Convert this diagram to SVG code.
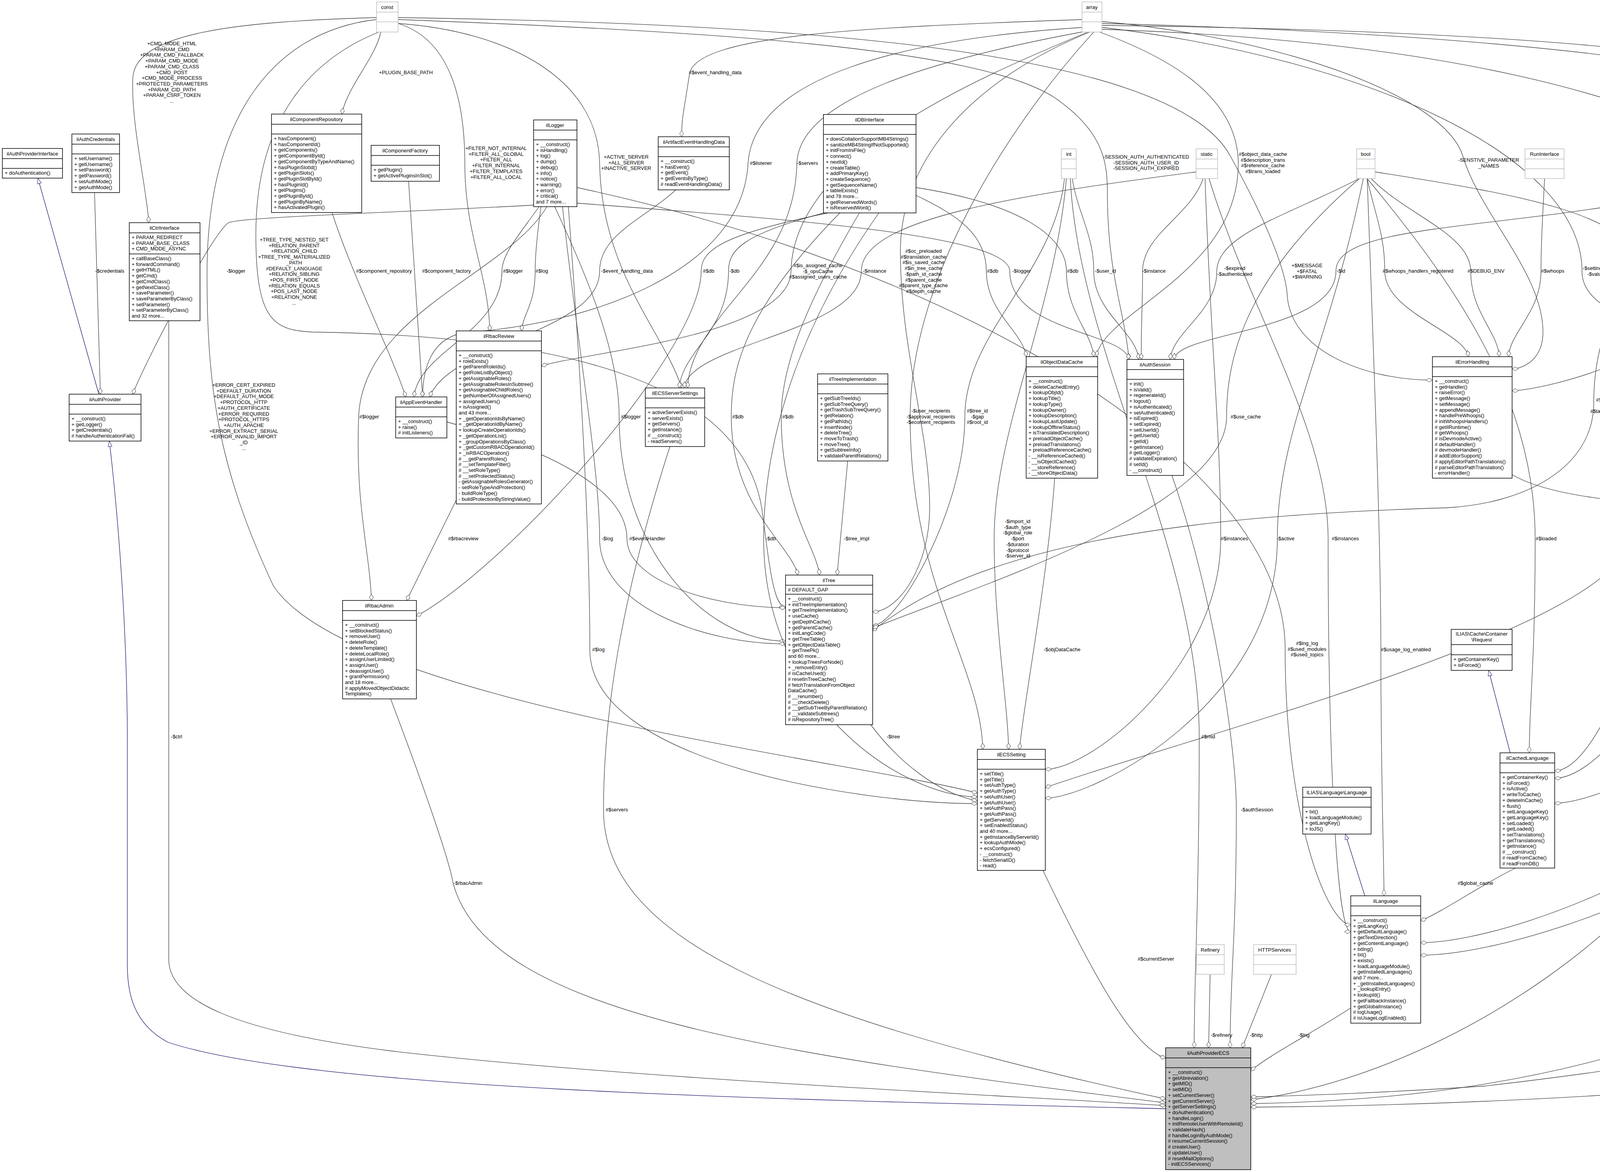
<svg xmlns="http://www.w3.org/2000/svg" width="5173" height="3000" viewBox="0 0 5173 3000">
<style>
text{font-family:"Liberation Sans",Arial,sans-serif;font-size:13px;fill:#000}
.t{text-anchor:middle}
.l{text-anchor:middle}
.b{fill:#fff;stroke:#000;stroke-width:1.5}
.s{stroke:#000;stroke-width:1.5}
.g{fill:#fff;stroke:#bfbfbf;stroke-width:1.5}
.gs{stroke:#bfbfbf;stroke-width:1.5}
.e{fill:none;stroke:#404040;stroke-width:1.3;marker-end:url(#d)}
.i{fill:none;stroke:#191970;stroke-width:1.3;marker-end:url(#gen)}
</style>
<defs>
<marker id="d" markerWidth="18" markerHeight="12" refX="17" refY="6" orient="auto" markerUnits="userSpaceOnUse"><path d="M1,6 L9,1 L17,6 L9,11 Z" fill="#fff" stroke="#404040"/></marker>
<marker id="gen" markerWidth="16" markerHeight="12" refX="15" refY="6" orient="auto" markerUnits="userSpaceOnUse"><path d="M1,1 L15,6 L1,11 Z" fill="#fff" stroke="#191970"/></marker>
</defs>
<rect width="5173" height="3000" fill="#fff"/>
<g id="connectors">
<path class="e" d="M964,45 C600,55 345,85 340,200 S375,480 381,570"/>
<path class="e" d="M975,82 C960,150 890,220 875,292"/>
<path class="e" d="M970,82 C800,150 655,300 655,600 C655,820 700,845 800,850 C1500,860 1900,1000 1950,1300 C1970,1450 1980,1553 2011,1553"/>
<path class="e" d="M964,50 C700,80 530,300 530,700 C530,1000 560,1200 700,1500 C900,1800 2200,1950 2502,2030"/>
<path class="e" d="M1019,60 C1150,100 1190,250 1190,420 C1190,600 1250,700 1254,847"/>
<path class="e" d="M1019,50 C1800,80 2500,120 2700,250 C2830,340 2835,420 2835,500 C2835,700 2880,800 2890,920"/>
<path class="e" d="M1019,45 C2000,60 3000,120 3150,400 C3260,600 3290,700 3295,750 C3300,900 3500,973 3667,973"/>
<path class="e" d="M1019,60 C1300,80 1530,200 1535,417 C1540,700 1700,850 1745,993"/>
<path class="e" d="M2821,55 C3300,100 3700,250 3745,400 C3790,550 3950,700 3950,850 C3950,920 3900,944 3871,944"/>
<path class="e" d="M2770,50 C2200,70 1780,90 1765,190 S1745,300 1745,350"/>
<path class="e" d="M2775,70 C2300,100 1930,200 1915,418 C1900,700 1500,830 1200,850 C1100,860 1082,950 1082,1016"/>
<path class="e" d="M2780,80 C2400,150 2045,250 2040,418 C2035,700 1770,800 1760,993"/>
<path class="e" d="M2785,82 C2500,200 2030,400 2025,695 C2020,860 1500,900 1386,937"/>
<path class="e" d="M2790,82 C2500,200 2305,400 2305,643 C2305,900 2380,1100 2380,1300 C2380,1450 2300,1566 2234,1566"/>
<path class="e" d="M2815,82 C3000,150 3170,250 3170,420 C3170,700 2820,800 2807,913"/>
<path class="e" d="M2800,82 C2600,300 2330,700 2330,1067 C2330,1500 2510,1700 2516,1918"/>
<path class="e" d="M2725,457 C2700,700 2470,850 2470,1067 C2470,1300 2300,1600 2234,1601"/>
<path class="e" d="M2730,457 C2700,800 2545,1100 2545,1379 C2545,1600 2580,1800 2582,1918"/>
<path class="e" d="M2740,457 C2760,900 3070,1400 3070,1886 C3070,2300 3057,2500 3057,2682"/>
<path class="e" d="M2745,457 C2760,550 2800,600 2800,694 C2800,800 2910,850 2915,920"/>
<path class="e" d="M3080,457 C3050,550 2925,600 2925,694 C2925,800 2920,850 2922,920"/>
<path class="e" d="M3480,457 C3300,550 3115,600 3115,695 C3115,800 3000,850 2996,920"/>
<path class="e" d="M4521,440 C4000,600 3420,550 3420,694 C3420,850 3010,850 3006,920"/>
<path class="e" d="M1477,520 C2000,560 2585,600 2585,694 C2585,850 2880,850 2890,920"/>
<path class="e" d="M2345,500 C2450,550 2525,600 2525,694 C2525,800 2620,850 2627,913"/>
<path class="e" d="M2345,480 C2600,520 2730,600 2730,694 C2730,800 2795,850 2800,913"/>
<path class="e" d="M3500,457 C3520,550 3545,600 3545,694 C3545,800 3750,850 3759,913"/>
<path class="e" d="M3510,457 C3600,550 3765,600 3765,694 C3765,800 3835,850 3838,913"/>
<path class="e" d="M3954,457 C3950,550 3945,600 3945,694 C3945,800 3865,850 3862,913"/>
<path class="e" d="M2821,70 C3500,150 4050,400 4050,695 C4050,850 4440,850 4457,936"/>
<path class="e" d="M3520,440 C3900,500 4195,550 4195,694 C4195,850 4460,850 4465,936"/>
<path class="e" d="M4530,457 C4420,550 4370,600 4370,694 C4370,900 3950,1000 3871,1000"/>
<path class="e" d="M4549,457 C4552,600 4555,650 4555,694 C4555,800 4540,850 4537,936"/>
<path class="e" d="M4577,440 C4800,550 4852,600 4852,695 C4852,850 4945,880 4951,957"/>
<path class="e" d="M2821,65 C4000,80 4990,150 5010,418 C5020,600 5005,800 5005,957"/>
<path class="e" d="M2821,60 C4000,90 4900,200 4915,418 C4925,700 4600,800 4553,936"/>
<path class="i" d="M4565,936 C4620,850 4700,840 4820,830 C4870,820 4885,700 4880,640 C4875,580 4850,560 4840,515"/>
<path class="e" d="M3871,1215 C4000,1290 4300,1290 4430,1305 C4460,1320 4465,1350 4470,1400 C4475,1480 4480,1500 4480,1544"/>
<path class="e" d="M4521,1202 C4520,1300 4515,1400 4511,1544"/>
<path class="e" d="M4570,457 C4630,700 4650,900 4650,1068 C4650,1300 4560,1450 4557,1544"/>
<path class="e" d="M3500,457 C3700,700 3930,1000 3930,1379 C3930,1700 3915,1800 3915,1927"/>
<path class="e" d="M4521,420 C4350,600 4280,850 4280,1067 C4280,1500 4100,1973 3980,1973"/>
<path class="e" d="M4530,457 C4400,800 4330,1100 4330,1379 C4330,1700 4100,1992 3980,1992"/>
<path class="e" d="M4440,1782 C4400,1850 4360,1880 4340,1900 C4200,2000 4050,2056 3980,2056"/>
<path class="e" d="M4521,430 C4200,600 4080,800 4080,1030 C4080,1200 3900,1290 3700,1300 C3000,1320 2500,1400 2234,1615"/>
<path class="e" d="M4540,457 C4300,800 4165,1100 4165,1380 C4165,1600 3000,1900 2676,2016"/>
<path class="e" d="M3085,457 C3100,900 3125,1100 3125,1379 C3125,1700 2800,1969 2676,1969"/>
<path class="e" d="M3490,457 C3400,900 3270,1100 3270,1379 C3270,1800 2800,2043 2676,2043"/>
<path class="e" d="M3095,457 C3200,800 3400,1100 3400,1379 C3400,1900 3420,2385 3458,2385"/>
<path class="e" d="M1477,480 C2500,700 3290,1200 3290,1662 C3290,2100 3400,2367 3458,2367"/>
<path class="e" d="M3500,457 C3520,1000 3535,1400 3535,1663 C3535,2000 3543,2200 3543,2293"/>
<path class="i" d="M3494,2293 L3444,2135"/>
<path class="i" d="M3866,1927 L3811,1716"/>
<path class="e" d="M3880,2222 C3800,2260 3700,2330 3637,2357"/>
<path class="e" d="M4577,450 C4650,900 4700,1300 4700,1650 C4700,2100 3900,2413 3637,2413"/>
<path class="e" d="M2821,75 C4500,130 5060,600 5075,1380 C5080,2000 4000,2445 3637,2445"/>
<path class="e" d="M3458,2580 C3350,2650 3250,2700 3202,2741"/>
<path class="e" d="M3098,2494 L3094,2682"/>
<path class="e" d="M3255,2494 L3180,2682"/>
<path class="e" d="M3000,1217 C3100,1500 3165,1900 3165,2073 C3165,2400 3149,2500 3149,2682"/>
<path class="e" d="M2670,2228 C2800,2500 2900,2680 2984,2709"/>
<path class="e" d="M1715,1143 C1600,1500 1545,1800 1545,2073 C1545,2400 2000,2600 2984,2813"/>
<path class="e" d="M1000,1789 C1080,2000 1150,2200 1160,2261 C1250,2600 2000,2700 2984,2823"/>
<path class="e" d="M432,821 L432,2456 C432,2560 600,2640 1000,2690 C1600,2760 2500,2800 2984,2830"/>
<path class="i" d="M2984,2838 C2000,2815 800,2790 430,2668 C340,2620 326,2540 326,2470 L326,1900 C326,1600 300,1300 280,1129"/>
<path class="i" d="M253,1009 L97,456"/>
<path class="e" d="M242,493 L257,1009"/>
<path class="e" d="M1366,525 C1000,545 620,555 585,570 C540,600 360,950 340,1009"/>
<path class="e" d="M850,544 C900,700 1000,900 1039,1016"/>
<path class="e" d="M1046,464 C1060,700 1075,900 1082,1016"/>
<path class="e" d="M1380,529 C1330,600 1285,650 1285,694 C1285,850 1070,900 1060,1016"/>
<path class="e" d="M1385,529 C1375,600 1370,650 1370,694 C1370,780 1340,800 1335,847"/>
<path class="e" d="M1730,486 C1650,560 1535,600 1535,694 C1535,850 1150,880 1100,1016"/>
<path class="e" d="M1400,529 C1300,700 930,800 918,1067 C910,1300 945,1400 951,1537"/>
<path class="e" d="M1168,1280 L1041,1537"/>
<path class="e" d="M2120,545 C1850,600 1795,640 1795,694 C1795,900 1300,1450 1066,1577"/>
<path class="e" d="M2110,545 C1900,600 1865,640 1865,694 C1865,850 1745,900 1739,993"/>
<path class="e" d="M3062,440 C2600,500 2205,560 2205,694 C2205,850 1760,880 1752,993"/>
<path class="e" d="M1420,529 C1500,700 1585,900 1585,1067 C1585,1400 1800,1641 2011,1641"/>
<path class="e" d="M2150,545 C1900,800 1872,950 1872,1067 C1872,1300 2030,1400 2042,1472"/>
<path class="e" d="M2200,545 C2050,800 2000,950 2000,1067 C2000,1300 2090,1400 2098,1472"/>
<path class="e" d="M2170,1180 L2143,1472"/>
<path class="e" d="M1440,529 C1480,900 1535,1200 1535,1379 C1535,1550 1800,1648 2011,1648"/>
<path class="e" d="M1144,1080 C1400,1150 1605,1250 1605,1379 C1605,1480 1800,1553 2011,1556"/>
<path class="e" d="M2250,545 C2000,900 1955,1200 1955,1379 C1955,1800 2300,2037 2502,2040"/>
<path class="e" d="M2229,1855 C2300,1950 2400,2030 2502,2050"/>
<path class="e" d="M1455,529 C1490,1000 1510,1400 1510,1663 C1510,1950 2200,2057 2502,2057"/>
<path class="e" d="M2700,1224 C2680,1500 2620,1800 2610,1918"/>
<path class="e" d="M3480,457 C3200,700 3140,900 3140,1067 C3140,1300 2500,1500 2234,1608"/>
<path class="e" d="M4470,1782 C4470,1950 4400,2100 4200,2300 C3900,2600 3500,2780 3202,2815"/>
<path class="e" d="M4560,1202 C4600,1600 4700,1950 4770,2080 C4820,2250 4700,2500 4300,2650 C3900,2790 3500,2820 3202,2825"/>
<path class="e" d="M5005,1180 L5005,2500 C5005,2700 4800,2750 4300,2790 C3900,2820 3500,2832 3202,2834"/>
<path class="e" d="M4577,440 C4800,600 4900,900 4902,1200 L4902,2455 C4902,2600 4500,2700 3800,2780 C3500,2800 3300,2805 3202,2808"/>
<g id="labels">
<text class="l" x="440"><tspan x="440" y="116">+CMD_MODE_HTML</tspan><tspan x="440" dy="14.7">+PARAM_CMD</tspan><tspan x="440" dy="14.7">+PARAM_CMD_FALLBACK</tspan><tspan x="440" dy="14.7">+PARAM_CMD_MODE</tspan><tspan x="440" dy="14.7">+PARAM_CMD_CLASS</tspan><tspan x="440" dy="14.7">+CMD_POST</tspan><tspan x="440" dy="14.7">+CMD_MODE_PROCESS</tspan><tspan x="440" dy="14.7">+PROTECTED_PARAMETERS</tspan><tspan x="440" dy="14.7">+PARAM_CID_PATH</tspan><tspan x="440" dy="14.7">+PARAM_CSRF_TOKEN</tspan><tspan x="440" dy="14.7">...</tspan></text>
<text class="l" x="1039" y="190">+PLUGIN_BASE_PATH</text>
<text class="l" x="753"><tspan x="753" y="618">+TREE_TYPE_NESTED_SET</tspan><tspan x="753" dy="14.7">+RELATION_PARENT</tspan><tspan x="753" dy="14.7">+RELATION_CHILD</tspan><tspan x="753" dy="14.7">+TREE_TYPE_MATERIALIZED</tspan><tspan x="753" dy="14.7">_PATH</tspan><tspan x="753" dy="14.7">#DEFAULT_LANGUAGE</tspan><tspan x="753" dy="14.7">+RELATION_SIBLING</tspan><tspan x="753" dy="14.7">+POS_FIRST_NODE</tspan><tspan x="753" dy="14.7">+RELATION_EQUALS</tspan><tspan x="753" dy="14.7">+POS_LAST_NODE</tspan><tspan x="753" dy="14.7">+RELATION_NONE</tspan><tspan x="753" dy="14.7">...</tspan></text>
<text class="l" x="1270"><tspan x="1270" y="384">+FILTER_NOT_INTERNAL</tspan><tspan x="1270" dy="14.7">+FILTER_ALL_GLOBAL</tspan><tspan x="1270" dy="14.7">+FILTER_ALL</tspan><tspan x="1270" dy="14.7">+FILTER_INTERNAL</tspan><tspan x="1270" dy="14.7">+FILTER_TEMPLATES</tspan><tspan x="1270" dy="14.7">+FILTER_ALL_LOCAL</tspan></text>
<text class="l" x="624"><tspan x="624" y="990">+ERROR_CERT_EXPIRED</tspan><tspan x="624" dy="14.7">+DEFAULT_DURATION</tspan><tspan x="624" dy="14.7">+DEFAULT_AUTH_MODE</tspan><tspan x="624" dy="14.7">+PROTOCOL_HTTP</tspan><tspan x="624" dy="14.7">+AUTH_CERTIFICATE</tspan><tspan x="624" dy="14.7">+ERROR_REQUIRED</tspan><tspan x="624" dy="14.7">+PROTOCOL_HTTPS</tspan><tspan x="624" dy="14.7">+AUTH_APACHE</tspan><tspan x="624" dy="14.7">+ERROR_EXTRACT_SERIAL</tspan><tspan x="624" dy="14.7">+ERROR_INVALID_IMPORT</tspan><tspan x="624" dy="14.7">_ID</tspan><tspan x="624" dy="14.7">...</tspan></text>
<text class="l" x="281" y="698">-$credentials</text>
<text class="l" x="604" y="698">-$logger</text>
<text class="l" x="983" y="698">#$component_repository</text>
<text class="l" x="1143" y="698">#$component_factory</text>
<text class="l" x="1313" y="698">#$logger</text>
<text class="l" x="1387" y="698">#$log</text>
<text class="l" x="1605" y="698">-$event_handling_data</text>
<text class="l" x="1814" y="698">#$db</text>
<text class="l" x="1880" y="698">-$db</text>
<text class="l" x="2094"><tspan x="2094" y="684">#$is_assigned_cache</tspan><tspan x="2094" dy="14.7">-$_opsCache</tspan><tspan x="2094" dy="14.7">#$assigned_users_cache</tspan></text>
<text class="l" x="2239" y="698">-$instance</text>
<text class="l" x="2364"><tspan x="2364" y="647">#$oc_preloaded</tspan><tspan x="2364" dy="14.7">#$translation_cache</tspan><tspan x="2364" dy="14.7">#$is_saved_cache</tspan><tspan x="2364" dy="14.7">#$in_tree_cache</tspan><tspan x="2364" dy="14.7">-$path_id_cache</tspan><tspan x="2364" dy="14.7">#$parent_cache</tspan><tspan x="2364" dy="14.7">#$parent_type_cache</tspan><tspan x="2364" dy="14.7">#$depth_cache</tspan></text>
<text class="l" x="2541" y="698">#$db</text>
<text class="l" x="1831" y="190">#$event_handling_data</text>
<text class="l" x="1603"><tspan x="1603" y="406">+ACTIVE_SERVER</tspan><tspan x="1603" dy="14.7">+ALL_SERVER</tspan><tspan x="1603" dy="14.7">+INACTIVE_SERVER</tspan></text>
<text class="l" x="1948" y="422">#$listener</text>
<text class="l" x="2067" y="422">-$servers</text>
<text class="l" x="2934"><tspan x="2934" y="406">-SESSION_AUTH_AUTHENTICATED</tspan><tspan x="2934" dy="14.7">-SESSION_AUTH_USER_ID</tspan><tspan x="2934" dy="14.7">-SESSION_AUTH_EXPIRED</tspan></text>
<text class="l" x="3233"><tspan x="3233" y="399">#$object_data_cache</tspan><tspan x="3233" dy="14.7">#$description_trans</tspan><tspan x="3233" dy="14.7">#$reference_cache</tspan><tspan x="3233" dy="14.7">#$trans_loaded</tspan></text>
<text class="l" x="3811"><tspan x="3811" y="414">-SENSTIVE_PARAMETER</tspan><tspan x="3811" dy="14.7">_NAMES</tspan></text>
<text class="l" x="2615" y="698">-$logger</text>
<text class="l" x="2746" y="698">#$db</text>
<text class="l" x="2830" y="698">-$user_id</text>
<text class="l" x="2954" y="698">-$instance</text>
<text class="l" x="3161"><tspan x="3161" y="691">-$expired</tspan><tspan x="3161" dy="14.7">-$authenticated</tspan></text>
<text class="l" x="3346"><tspan x="3346" y="684">+$MESSAGE</tspan><tspan x="3346" dy="14.7">+$FATAL</tspan><tspan x="3346" dy="14.7">+$WARNING</tspan></text>
<text class="l" x="3433" y="698">-$id</text>
<text class="l" x="3630" y="698">#$whoops_handlers_registered</text>
<text class="l" x="3804" y="698">#$DEBUG_ENV</text>
<text class="l" x="3975" y="698">#$whoops</text>
<text class="l" x="4101"><tspan x="4101" y="691">-$settings_cache</tspan><tspan x="4101" dy="14.7">-$value_type</tspan></text>
<text class="l" x="4247" y="698">#$cache_disabled</text>
<text class="l" x="4405" y="698">#$message</text>
<text class="l" x="4582" y="698">+$module</text>
<text class="l" x="4912"><tspan x="4912" y="684">+$CURRENT_GROUP</tspan><tspan x="4912" dy="14.7">+$ERROR</tspan><tspan x="4912" dy="14.7">+$INI_FILE_NAME</tspan></text>
<text class="l" x="4945" y="422">+$setting</text>
<text class="l" x="5043" y="422">+$GROUPS</text>
<text class="l" x="945" y="1071">#$logger</text>
<text class="l" x="1186" y="1383">#$rbacreview</text>
<text class="l" x="452" y="1890">-$ctrl</text>
<text class="l" x="1615" y="1071">#$logger</text>
<text class="l" x="1889" y="1071">#$db</text>
<text class="l" x="2017" y="1071">#$db</text>
<text class="l" x="2383"><tspan x="2383" y="1056">-$user_recipients</tspan><tspan x="2383" dy="14.7">-$approval_recipients</tspan><tspan x="2383" dy="14.7">-$econtent_recipients</tspan></text>
<text class="l" x="2502"><tspan x="2502" y="1056">#$tree_id</tspan><tspan x="2502" dy="14.7">-$gap</tspan><tspan x="2502" dy="14.7">#$root_id</tspan></text>
<text class="l" x="1555" y="1383">-$log</text>
<text class="l" x="1657" y="1383">#$eventHandler</text>
<text class="l" x="1973" y="1383">-$db</text>
<text class="l" x="2193" y="1383">-$tree_impl</text>
<text class="l" x="2605"><tspan x="2605" y="1339">-$import_id</tspan><tspan x="2605" dy="14.7">-$auth_type</tspan><tspan x="2605" dy="14.7">-$global_role</tspan><tspan x="2605" dy="14.7">-$port</tspan><tspan x="2605" dy="14.7">-$duration</tspan><tspan x="2605" dy="14.7">-$protocol</tspan><tspan x="2605" dy="14.7">-$server_id</tspan></text>
<text class="l" x="1532" y="1667">#$log</text>
<text class="l" x="2287" y="1890">-$tree</text>
<text class="l" x="3189" y="1071">#$use_cache</text>
<text class="l" x="3160" y="1383">#$instances</text>
<text class="l" x="3291" y="1383">-$active</text>
<text class="l" x="3444" y="1383">#$instances</text>
<text class="l" x="2719" y="1667">-$objDataCache</text>
<text class="l" x="3346"><tspan x="3346" y="1651">#$lng_log</tspan><tspan x="3346" dy="14.7">#$used_modules</tspan><tspan x="3346" dy="14.7">#$used_topics</tspan></text>
<text class="l" x="3599" y="1667">#$usage_log_enabled</text>
<text class="l" x="3093" y="1890">#$mid</text>
<text class="l" x="4136"><tspan x="4136" y="1028">#$table_obj_data</tspan><tspan x="4136" dy="14.7">#$tree_pk</tspan><tspan x="4136" dy="14.7">#$table_obj_reference</tspan><tspan x="4136" dy="14.7">-$lang_code</tspan><tspan x="4136" dy="14.7">#$obj_pk</tspan><tspan x="4136" dy="14.7">#$ref_pk</tspan><tspan x="4136" dy="14.7">#$table_tree</tspan></text>
<text class="l" x="4327" y="1071">#$translations</text>
<text class="l" x="4692"><tspan x="4692" y="1065">+$INI_FILE</tspan><tspan x="4692" dy="14.7">+$client_id</tspan></text>
<text class="l" x="3958" y="1383">#$loaded</text>
<text class="l" x="4375" y="1383">#$language_key</text>
<text class="l" x="4483" y="1383">#$error</text>
<text class="l" x="4548" y="1383">#$setting</text>
<text class="l" x="4232"><tspan x="4232" y="1325">-$auth_user</tspan><tspan x="4232" dy="14.7">-$key_password</tspan><tspan x="4232" dy="14.7">-$server</tspan><tspan x="4232" dy="14.7">-$cert_serial_number</tspan><tspan x="4232" dy="14.7">-$ca_cert_path</tspan><tspan x="4232" dy="14.7">-$auth_pass</tspan><tspan x="4232" dy="14.7">-$key_path</tspan><tspan x="4232" dy="14.7">-$client_cert_path</tspan><tspan x="4232" dy="14.7">-$title</tspan></text>
<text class="l" x="5120"><tspan x="5120" y="1361">#$cached_modules</tspan><tspan x="5120" dy="14.7">#$map_modules_txt</tspan><tspan x="5120" dy="14.7">+$loaded_modules</tspan><tspan x="5120" dy="14.7">+$text</tspan></text>
<text class="l" x="4759"><tspan x="4759" y="1614">+$lang_name</tspan><tspan x="4759" dy="14.7">+$lang_user</tspan><tspan x="4759" dy="14.7">+$lang_path</tspan><tspan x="4759" dy="14.7">#$cust_lang_path</tspan><tspan x="4759" dy="14.7">+$separator</tspan><tspan x="4759" dy="14.7">+$comment_separator</tspan><tspan x="4759" dy="14.7">+$lang_key</tspan><tspan x="4759" dy="14.7">+$lang_default</tspan></text>
<text class="l" x="4412" y="1890">#$language_cache</text>
<text class="l" x="4945" y="1890">#$abreviation</text>
<text class="l" x="1198" y="2265">-$rbacAdmin</text>
<text class="l" x="1579" y="2077">#$servers</text>
<text class="l" x="3218" y="2077">-$authSession</text>
<text class="l" x="3777" y="2265">#$global_cache</text>
<text class="l" x="2959" y="2459">#$currentServer</text>
<text class="l" x="3127" y="2654">-$refinery</text>
<text class="l" x="3216" y="2654">-$http</text>
<text class="l" x="3338" y="2654">-$lng</text>
<text class="l" x="4480" y="2077">+$ilias</text>
<text class="l" x="4812" y="2077">-$setting</text>
<text class="l" x="5048" y="2077">-$clientIniFile</text>
</g>
</g>
<g id="const"><rect class="g" x="964" y="5" width="55" height="77"/><path class="gs" d="M964,31H1019M964,56H1019"/><text class="t" x="991" y="23">const</text></g>
<g id="array"><rect class="g" x="2770" y="5" width="51" height="77"/><path class="gs" d="M2770,31H2821M2770,56H2821"/><text class="t" x="2795" y="23">array</text></g>
<g id="int"><rect class="g" x="2717" y="381" width="38" height="76"/><path class="gs" d="M2717,407H2755M2717,432H2755"/><text class="t" x="2736" y="399">int</text></g>
<g id="static"><rect class="g" x="3062" y="381" width="55" height="76"/><path class="gs" d="M3062,407H3117M3062,432H3117"/><text class="t" x="3089" y="399">static</text></g>
<g id="bool"><rect class="g" x="3473" y="381" width="47" height="76"/><path class="gs" d="M3473,407H3520M3473,432H3520"/><text class="t" x="3496" y="399">bool</text></g>
<g id="string"><rect class="g" x="4521" y="381" width="56" height="76"/><path class="gs" d="M4521,407H4577M4521,432H4577"/><text class="t" x="4549" y="399">string</text></g>
<g id="RunInterface"><rect class="g" x="3904" y="381" width="100" height="76"/><path class="gs" d="M3904,407H4004M3904,432H4004"/><text class="t" x="3954" y="399">RunInterface</text></g>
<g id="Refinery"><rect class="g" x="3063" y="2418" width="71" height="76"/><path class="gs" d="M3063,2444H3134M3063,2469H3134"/><text class="t" x="3098" y="2436">Refinery</text></g>
<g id="HTTPServices"><rect class="g" x="3209" y="2418" width="109" height="76"/><path class="gs" d="M3209,2444H3318M3209,2469H3318"/><text class="t" x="3263" y="2436">HTTPServices</text></g>
<g id="ilAuthProviderInterface"><rect class="b" x="6" y="380" width="154" height="76"/><path class="s" d="M6,406H160M6,431H160"/><text class="t" x="83" y="398">ilAuthProviderInterface</text><text x="12" y="447">+ doAuthentication()</text></g>
<g id="ilAuthCredentials"><rect class="b" x="184" y="343" width="122" height="150"/><path class="s" d="M184,369H306M184,394H306"/><text class="t" x="245" y="361">ilAuthCredentials</text><text x="190"><tspan x="190" y="410">+ setUsername()</tspan><tspan x="190" dy="14.7">+ getUsername()</tspan><tspan x="190" dy="14.7">+ setPassword()</tspan><tspan x="190" dy="14.7">+ getPassword()</tspan><tspan x="190" dy="14.7">+ setAuthMode()</tspan><tspan x="190" dy="14.7">+ getAuthMode()</tspan></text></g>
<g id="ilComponentRepository"><rect class="b" x="695" y="292" width="231" height="252"/><path class="s" d="M695,318H926M695,343H926"/><text class="t" x="810" y="310">ilComponentRepository</text><text x="701"><tspan x="701" y="359">+ hasComponent()</tspan><tspan x="701" dy="14.7">+ hasComponentId()</tspan><tspan x="701" dy="14.7">+ getComponents()</tspan><tspan x="701" dy="14.7">+ getComponentById()</tspan><tspan x="701" dy="14.7">+ getComponentByTypeAndName()</tspan><tspan x="701" dy="14.7">+ hasPluginSlotId()</tspan><tspan x="701" dy="14.7">+ getPluginSlots()</tspan><tspan x="701" dy="14.7">+ getPluginSlotById()</tspan><tspan x="701" dy="14.7">+ hasPluginId()</tspan><tspan x="701" dy="14.7">+ getPlugins()</tspan><tspan x="701" dy="14.7">+ getPluginById()</tspan><tspan x="701" dy="14.7">+ getPluginByName()</tspan><tspan x="701" dy="14.7">+ hasActivatedPlugin()</tspan></text></g>
<g id="ilComponentFactory"><rect class="b" x="950" y="372" width="175" height="92"/><path class="s" d="M950,398H1125M950,423H1125"/><text class="t" x="1037" y="390">ilComponentFactory</text><text x="956"><tspan x="956" y="439">+ getPlugin()</tspan><tspan x="956" dy="14.7">+ getActivePluginsInSlot()</tspan></text></g>
<g id="ilCtrlInterface"><rect class="b" x="331" y="570" width="181" height="251"/><path class="s" d="M331,596H512M331,650H512"/><text class="t" x="421" y="588">ilCtrlInterface</text><text x="337"><tspan x="337" y="612">+ PARAM_REDIRECT</tspan><tspan x="337" dy="14.7">+ PARAM_BASE_CLASS</tspan><tspan x="337" dy="14.7">+ CMD_MODE_ASYNC</tspan></text><text x="337"><tspan x="337" y="666">+ callBaseClass()</tspan><tspan x="337" dy="14.7">+ forwardCommand()</tspan><tspan x="337" dy="14.7">+ getHTML()</tspan><tspan x="337" dy="14.7">+ getCmd()</tspan><tspan x="337" dy="14.7">+ getCmdClass()</tspan><tspan x="337" dy="14.7">+ getNextClass()</tspan><tspan x="337" dy="14.7">+ saveParameter()</tspan><tspan x="337" dy="14.7">+ saveParameterByClass()</tspan><tspan x="337" dy="14.7">+ setParameter()</tspan><tspan x="337" dy="14.7">+ setParameterByClass()</tspan><tspan x="337" dy="14.7">and 32 more...</tspan></text></g>
<g id="ilLogger"><rect class="b" x="1366" y="307" width="111" height="222"/><path class="s" d="M1366,333H1477M1366,358H1477"/><text class="t" x="1421" y="325">ilLogger</text><text x="1372"><tspan x="1372" y="374">+ __construct()</tspan><tspan x="1372" dy="14.7">+ isHandling()</tspan><tspan x="1372" dy="14.7">+ log()</tspan><tspan x="1372" dy="14.7">+ dump()</tspan><tspan x="1372" dy="14.7">+ debug()</tspan><tspan x="1372" dy="14.7">+ info()</tspan><tspan x="1372" dy="14.7">+ notice()</tspan><tspan x="1372" dy="14.7">+ warning()</tspan><tspan x="1372" dy="14.7">+ error()</tspan><tspan x="1372" dy="14.7">+ critical()</tspan><tspan x="1372" dy="14.7">and 7 more...</tspan></text></g>
<g id="ilArtifactEventHandlingData"><rect class="b" x="1685" y="350" width="182" height="136"/><path class="s" d="M1685,376H1867M1685,401H1867"/><text class="t" x="1776" y="368">ilArtifactEventHandlingData</text><text x="1691"><tspan x="1691" y="417">+ __construct()</tspan><tspan x="1691" dy="14.7">+ hasEvent()</tspan><tspan x="1691" dy="14.7">+ getEvent()</tspan><tspan x="1691" dy="14.7">+ getEventsByType()</tspan><tspan x="1691" dy="14.7"># readEventHandlingData()</tspan></text></g>
<g id="ilDBInterface"><rect class="b" x="2108" y="293" width="237" height="252"/><path class="s" d="M2108,319H2345M2108,344H2345"/><text class="t" x="2226" y="311">ilDBInterface</text><text x="2114"><tspan x="2114" y="360">+ doesCollationSupportMB4Strings()</tspan><tspan x="2114" dy="14.7">+ sanitizeMB4StringIfNotSupported()</tspan><tspan x="2114" dy="14.7">+ initFromIniFile()</tspan><tspan x="2114" dy="14.7">+ connect()</tspan><tspan x="2114" dy="14.7">+ nextId()</tspan><tspan x="2114" dy="14.7">+ createTable()</tspan><tspan x="2114" dy="14.7">+ addPrimaryKey()</tspan><tspan x="2114" dy="14.7">+ createSequence()</tspan><tspan x="2114" dy="14.7">+ getSequenceName()</tspan><tspan x="2114" dy="14.7">+ tableExists()</tspan><tspan x="2114" dy="14.7">and 78 more...</tspan><tspan x="2114" dy="14.7">+ getReservedWords()</tspan><tspan x="2114" dy="14.7">+ isReservedWord()</tspan></text></g>
<g id="ILIAS_Administration_Setting"><rect class="b" x="4698" y="321" width="146" height="194"/><path class="s" d="M4698,362H4844M4698,387H4844"/><text class="t" x="4771"><tspan x="4771" y="338">ILIAS\Administration</tspan><tspan x="4771" dy="15">\Setting</tspan></text><text x="4704"><tspan x="4704" y="403">+ getModule()</tspan><tspan x="4704" dy="14.7">+ read()</tspan><tspan x="4704" dy="14.7">+ get()</tspan><tspan x="4704" dy="14.7">+ deleteAll()</tspan><tspan x="4704" dy="14.7">+ delete()</tspan><tspan x="4704" dy="14.7">+ getAll()</tspan><tspan x="4704" dy="14.7">+ set()</tspan><tspan x="4704" dy="14.7">+ _lookupValue()</tspan></text></g>
<g id="ilRbacReview"><rect class="b" x="1168" y="847" width="218" height="443"/><path class="s" d="M1168,873H1386M1168,898H1386"/><text class="t" x="1277" y="865">ilRbacReview</text><text x="1174"><tspan x="1174" y="914">+ __construct()</tspan><tspan x="1174" dy="14.7">+ roleExists()</tspan><tspan x="1174" dy="14.7">+ getParentRoleIds()</tspan><tspan x="1174" dy="14.7">+ getRoleListByObject()</tspan><tspan x="1174" dy="14.7">+ getAssignableRoles()</tspan><tspan x="1174" dy="14.7">+ getAssignableRolesInSubtree()</tspan><tspan x="1174" dy="14.7">+ getAssignableChildRoles()</tspan><tspan x="1174" dy="14.7">+ getNumberOfAssignedUsers()</tspan><tspan x="1174" dy="14.7">+ assignedUsers()</tspan><tspan x="1174" dy="14.7">+ isAssigned()</tspan><tspan x="1174" dy="14.7">and 43 more...</tspan><tspan x="1174" dy="14.7">+ _getOperationIdsByName()</tspan><tspan x="1174" dy="14.7">+ _getOperationIdByName()</tspan><tspan x="1174" dy="14.7">+ lookupCreateOperationIds()</tspan><tspan x="1174" dy="14.7">+ _getOperationList()</tspan><tspan x="1174" dy="14.7">+ _groupOperationsByClass()</tspan><tspan x="1174" dy="14.7">+ _getCustomRBACOperationId()</tspan><tspan x="1174" dy="14.7">+ _isRBACOperation()</tspan><tspan x="1174" dy="14.7"># __getParentRoles()</tspan><tspan x="1174" dy="14.7"># __setTemplateFilter()</tspan><tspan x="1174" dy="14.7"># __setRoleType()</tspan><tspan x="1174" dy="14.7"># __setProtectedStatus()</tspan><tspan x="1174" dy="14.7">- getAssignableRolesGenerator()</tspan><tspan x="1174" dy="14.7">- setRoleTypeAndProtection()</tspan><tspan x="1174" dy="14.7">- buildRoleType()</tspan><tspan x="1174" dy="14.7">- buildProtectionByStringValue()</tspan></text></g>
<g id="ilAppEventHandler"><rect class="b" x="1013" y="1016" width="131" height="105"/><path class="s" d="M1013,1042H1144M1013,1067H1144"/><text class="t" x="1078" y="1034">ilAppEventHandler</text><text x="1019"><tspan x="1019" y="1083">+ __construct()</tspan><tspan x="1019" dy="14.7">+ raise()</tspan><tspan x="1019" dy="14.7"># initListeners()</tspan></text></g>
<g id="ilECSServerSettings"><rect class="b" x="1652" y="993" width="152" height="150"/><path class="s" d="M1652,1019H1804M1652,1044H1804"/><text class="t" x="1728" y="1011">ilECSServerSettings</text><text x="1658"><tspan x="1658" y="1060">+ activeServerExists()</tspan><tspan x="1658" dy="14.7">+ serverExists()</tspan><tspan x="1658" dy="14.7">+ getServers()</tspan><tspan x="1658" dy="14.7">+ getInstance()</tspan><tspan x="1658" dy="14.7"># __construct()</tspan><tspan x="1658" dy="14.7">- readServers()</tspan></text></g>
<g id="ilTreeImplementation"><rect class="b" x="2093" y="957" width="180" height="223"/><path class="s" d="M2093,983H2273M2093,1008H2273"/><text class="t" x="2183" y="975">ilTreeImplementation</text><text x="2099"><tspan x="2099" y="1024">+ getSubTreeIds()</tspan><tspan x="2099" dy="14.7">+ getSubTreeQuery()</tspan><tspan x="2099" dy="14.7">+ getTrashSubTreeQuery()</tspan><tspan x="2099" dy="14.7">+ getRelation()</tspan><tspan x="2099" dy="14.7">+ getPathIds()</tspan><tspan x="2099" dy="14.7">+ insertNode()</tspan><tspan x="2099" dy="14.7">+ deleteTree()</tspan><tspan x="2099" dy="14.7">+ moveToTrash()</tspan><tspan x="2099" dy="14.7">+ moveTree()</tspan><tspan x="2099" dy="14.7">+ getSubtreeInfo()</tspan><tspan x="2099" dy="14.7">+ validateParentRelations()</tspan></text></g>
<g id="ilObjectDataCache"><rect class="b" x="2627" y="913" width="183" height="311"/><path class="s" d="M2627,939H2810M2627,964H2810"/><text class="t" x="2718" y="931">ilObjectDataCache</text><text x="2633"><tspan x="2633" y="980">+ __construct()</tspan><tspan x="2633" dy="14.7">+ deleteCachedEntry()</tspan><tspan x="2633" dy="14.7">+ lookupObjId()</tspan><tspan x="2633" dy="14.7">+ lookupTitle()</tspan><tspan x="2633" dy="14.7">+ lookupType()</tspan><tspan x="2633" dy="14.7">+ lookupOwner()</tspan><tspan x="2633" dy="14.7">+ lookupDescription()</tspan><tspan x="2633" dy="14.7">+ lookupLastUpdate()</tspan><tspan x="2633" dy="14.7">+ lookupOfflineStatus()</tspan><tspan x="2633" dy="14.7">+ isTranslatedDescription()</tspan><tspan x="2633" dy="14.7">+ preloadObjectCache()</tspan><tspan x="2633" dy="14.7">+ preloadTranslations()</tspan><tspan x="2633" dy="14.7">+ preloadReferenceCache()</tspan><tspan x="2633" dy="14.7">- __isReferenceCached()</tspan><tspan x="2633" dy="14.7">- __isObjectCached()</tspan><tspan x="2633" dy="14.7">- __storeReference()</tspan><tspan x="2633" dy="14.7">- __storeObjectData()</tspan></text></g>
<g id="ilAuthSession"><rect class="b" x="2885" y="920" width="145" height="297"/><path class="s" d="M2885,946H3030M2885,971H3030"/><text class="t" x="2957" y="938">ilAuthSession</text><text x="2891"><tspan x="2891" y="987">+ init()</tspan><tspan x="2891" dy="14.7">+ isValid()</tspan><tspan x="2891" dy="14.7">+ regenerateId()</tspan><tspan x="2891" dy="14.7">+ logout()</tspan><tspan x="2891" dy="14.7">+ isAuthenticated()</tspan><tspan x="2891" dy="14.7">+ setAuthenticated()</tspan><tspan x="2891" dy="14.7">+ isExpired()</tspan><tspan x="2891" dy="14.7">+ setExpired()</tspan><tspan x="2891" dy="14.7">+ setUserId()</tspan><tspan x="2891" dy="14.7">+ getUserId()</tspan><tspan x="2891" dy="14.7">+ getId()</tspan><tspan x="2891" dy="14.7">+ getInstance()</tspan><tspan x="2891" dy="14.7"># getLogger()</tspan><tspan x="2891" dy="14.7"># validateExpiration()</tspan><tspan x="2891" dy="14.7"># setId()</tspan><tspan x="2891" dy="14.7">- __construct()</tspan></text></g>
<g id="ilErrorHandling"><rect class="b" x="3667" y="913" width="204" height="311"/><path class="s" d="M3667,939H3871M3667,964H3871"/><text class="t" x="3769" y="931">ilErrorHandling</text><text x="3673"><tspan x="3673" y="980">+ __construct()</tspan><tspan x="3673" dy="14.7">+ getHandler()</tspan><tspan x="3673" dy="14.7">+ raiseError()</tspan><tspan x="3673" dy="14.7">+ getMessage()</tspan><tspan x="3673" dy="14.7">+ setMessage()</tspan><tspan x="3673" dy="14.7">+ appendMessage()</tspan><tspan x="3673" dy="14.7">+ handlePreWhoops()</tspan><tspan x="3673" dy="14.7"># initWhoopsHandlers()</tspan><tspan x="3673" dy="14.7"># getIlRuntime()</tspan><tspan x="3673" dy="14.7"># getWhoops()</tspan><tspan x="3673" dy="14.7"># isDevmodeActive()</tspan><tspan x="3673" dy="14.7"># defaultHandler()</tspan><tspan x="3673" dy="14.7"># devmodeHandler()</tspan><tspan x="3673" dy="14.7"># addEditorSupport()</tspan><tspan x="3673" dy="14.7"># applyEditorPathTranslations()</tspan><tspan x="3673" dy="14.7"># parseEditorPathTranslation()</tspan><tspan x="3673" dy="14.7">- errorHandler()</tspan></text></g>
<g id="ilSetting"><rect class="b" x="4446" y="936" width="157" height="266"/><path class="s" d="M4446,962H4603M4446,987H4603"/><text class="t" x="4524" y="954">ilSetting</text><text x="4452"><tspan x="4452" y="1003">+ __construct()</tspan><tspan x="4452" dy="14.7">+ getModule()</tspan><tspan x="4452" dy="14.7">+ read()</tspan><tspan x="4452" dy="14.7">+ get()</tspan><tspan x="4452" dy="14.7">+ deleteAll()</tspan><tspan x="4452" dy="14.7">+ deleteLike()</tspan><tspan x="4452" dy="14.7">+ delete()</tspan><tspan x="4452" dy="14.7">+ getAll()</tspan><tspan x="4452" dy="14.7">+ set()</tspan><tspan x="4452" dy="14.7">+ setScormDebug()</tspan><tspan x="4452" dy="14.7">+ _lookupValue()</tspan><tspan x="4452" dy="14.7">+ _getValueType()</tspan><tspan x="4452" dy="14.7">+ _changeValueType()</tspan><tspan x="4452" dy="14.7">+ _getLongerSettings()</tspan></text></g>
<g id="ilIniFile"><rect class="b" x="4937" y="957" width="133" height="223"/><path class="s" d="M4937,983H5070M4937,1008H5070"/><text class="t" x="5003" y="975">ilIniFile</text><text x="4943"><tspan x="4943" y="1024">+ __construct()</tspan><tspan x="4943" dy="14.7">+ read()</tspan><tspan x="4943" dy="14.7">+ parse()</tspan><tspan x="4943" dy="14.7">+ write()</tspan><tspan x="4943" dy="14.7">+ show()</tspan><tspan x="4943" dy="14.7">+ getGroupCount()</tspan><tspan x="4943" dy="14.7">+ readGroups()</tspan><tspan x="4943" dy="14.7">+ groupExists()</tspan><tspan x="4943" dy="14.7">+ readGroup()</tspan><tspan x="4943" dy="14.7">+ addGroup()</tspan><tspan x="4943" dy="14.7">and 6 more...</tspan></text></g>
<g id="ilAuthProvider"><rect class="b" x="177" y="1009" width="184" height="120"/><path class="s" d="M177,1035H361M177,1060H361"/><text class="t" x="269" y="1027">ilAuthProvider</text><text x="183"><tspan x="183" y="1076">+ __construct()</tspan><tspan x="183" dy="14.7">+ getLogger()</tspan><tspan x="183" dy="14.7">+ getCredentials()</tspan><tspan x="183" dy="14.7"># handleAuthenticationFail()</tspan></text></g>
<g id="ilRbacAdmin"><rect class="b" x="877" y="1537" width="189" height="252"/><path class="s" d="M877,1563H1066M877,1588H1066"/><text class="t" x="971" y="1555">ilRbacAdmin</text><text x="883"><tspan x="883" y="1604">+ __construct()</tspan><tspan x="883" dy="14.7">+ setBlockedStatus()</tspan><tspan x="883" dy="14.7">+ removeUser()</tspan><tspan x="883" dy="14.7">+ deleteRole()</tspan><tspan x="883" dy="14.7">+ deleteTemplate()</tspan><tspan x="883" dy="14.7">+ deleteLocalRole()</tspan><tspan x="883" dy="14.7">+ assignUserLimited()</tspan><tspan x="883" dy="14.7">+ assignUser()</tspan><tspan x="883" dy="14.7">+ deassignUser()</tspan><tspan x="883" dy="14.7">+ grantPermission()</tspan><tspan x="883" dy="14.7">and 18 more...</tspan><tspan x="883" dy="14.7"># applyMovedObjectDidactic</tspan><tspan x="883" dy="14.7">Templates()</tspan></text></g>
<g id="ilTree"><rect class="b" x="2011" y="1472" width="223" height="383"/><path class="s" d="M2011,1498H2234M2011,1521H2234"/><text class="t" x="2122" y="1490">ilTree</text><text x="2017" y="1514"># DEFAULT_GAP</text><text x="2017"><tspan x="2017" y="1537">+ __construct()</tspan><tspan x="2017" dy="14.7">+ initTreeImplementation()</tspan><tspan x="2017" dy="14.7">+ getTreeImplementation()</tspan><tspan x="2017" dy="14.7">+ useCache()</tspan><tspan x="2017" dy="14.7">+ getDepthCache()</tspan><tspan x="2017" dy="14.7">+ getParentCache()</tspan><tspan x="2017" dy="14.7">+ initLangCode()</tspan><tspan x="2017" dy="14.7">+ getTreeTable()</tspan><tspan x="2017" dy="14.7">+ getObjectDataTable()</tspan><tspan x="2017" dy="14.7">+ getTreePk()</tspan><tspan x="2017" dy="14.7">and 60 more...</tspan><tspan x="2017" dy="14.7">+ lookupTreesForNode()</tspan><tspan x="2017" dy="14.7">+ _removeEntry()</tspan><tspan x="2017" dy="14.7"># isCacheUsed()</tspan><tspan x="2017" dy="14.7"># resetInTreeCache()</tspan><tspan x="2017" dy="14.7"># fetchTranslationFromObject</tspan><tspan x="2017" dy="14.7">DataCache()</tspan><tspan x="2017" dy="14.7"># __renumber()</tspan><tspan x="2017" dy="14.7"># __checkDelete()</tspan><tspan x="2017" dy="14.7"># __getSubTreeByParentRelation()</tspan><tspan x="2017" dy="14.7"># __validateSubtrees()</tspan><tspan x="2017" dy="14.7"># isRepositoryTree()</tspan></text></g>
<g id="ilECSSetting"><rect class="b" x="2502" y="1918" width="174" height="310"/><path class="s" d="M2502,1944H2676M2502,1969H2676"/><text class="t" x="2589" y="1936">ilECSSetting</text><text x="2508"><tspan x="2508" y="1985">+ setTitle()</tspan><tspan x="2508" dy="14.7">+ getTitle()</tspan><tspan x="2508" dy="14.7">+ setAuthType()</tspan><tspan x="2508" dy="14.7">+ getAuthType()</tspan><tspan x="2508" dy="14.7">+ setAuthUser()</tspan><tspan x="2508" dy="14.7">+ getAuthUser()</tspan><tspan x="2508" dy="14.7">+ setAuthPass()</tspan><tspan x="2508" dy="14.7">+ getAuthPass()</tspan><tspan x="2508" dy="14.7">+ getServerId()</tspan><tspan x="2508" dy="14.7">+ setEnabledStatus()</tspan><tspan x="2508" dy="14.7">and 40 more...</tspan><tspan x="2508" dy="14.7">+ getInstanceByServerId()</tspan><tspan x="2508" dy="14.7">+ lookupAuthMode()</tspan><tspan x="2508" dy="14.7">+ ecsConfigured()</tspan><tspan x="2508" dy="14.7">- __construct()</tspan><tspan x="2508" dy="14.7">- fetchSerialID()</tspan><tspan x="2508" dy="14.7">- read()</tspan></text></g>
<g id="ILIAS"><rect class="b" x="4436" y="1544" width="141" height="238"/><path class="s" d="M4436,1570H4577M4436,1654H4577"/><text class="t" x="4506" y="1562">ILIAS</text><text x="4442"><tspan x="4442" y="1586">+ $account</tspan><tspan x="4442" dy="14.7">+ $ini</tspan><tspan x="4442" dy="14.7">+ $ini_ilias</tspan><tspan x="4442" dy="14.7">+ $db</tspan><tspan x="4442" dy="14.7">+ $error_obj</tspan></text><text x="4442"><tspan x="4442" y="1670">+ __construct()</tspan><tspan x="4442" dy="14.7">+ getSetting()</tspan><tspan x="4442" dy="14.7">+ deleteSetting()</tspan><tspan x="4442" dy="14.7">+ getAllSettings()</tspan><tspan x="4442" dy="14.7">+ setSetting()</tspan><tspan x="4442" dy="14.7">+ getClientId()</tspan><tspan x="4442" dy="14.7">+ raiseError()</tspan><tspan x="4442" dy="14.7"># getSettingObject()</tspan></text></g>
<g id="ILIAS_Cache_Container_Request"><rect class="b" x="3715" y="1611" width="156" height="105"/><path class="s" d="M3715,1650H3871M3715,1676H3871"/><text class="t" x="3793"><tspan x="3793" y="1627">ILIAS\Cache\Container</tspan><tspan x="3793" dy="15">\Request</tspan></text><text x="3721"><tspan x="3721" y="1692">+ getContainerKey()</tspan><tspan x="3721" dy="14.7">+ isForced()</tspan></text></g>
<g id="ilCachedLanguage"><rect class="b" x="3840" y="1927" width="140" height="295"/><path class="s" d="M3840,1953H3980M3840,1978H3980"/><text class="t" x="3910" y="1945">ilCachedLanguage</text><text x="3846"><tspan x="3846" y="1994">+ getContainerKey()</tspan><tspan x="3846" dy="14.7">+ isForced()</tspan><tspan x="3846" dy="14.7">+ isActive()</tspan><tspan x="3846" dy="14.7">+ writeToCache()</tspan><tspan x="3846" dy="14.7">+ deleteInCache()</tspan><tspan x="3846" dy="14.7">+ flush()</tspan><tspan x="3846" dy="14.7">+ setLanguageKey()</tspan><tspan x="3846" dy="14.7">+ getLanguageKey()</tspan><tspan x="3846" dy="14.7">+ setLoaded()</tspan><tspan x="3846" dy="14.7">+ getLoaded()</tspan><tspan x="3846" dy="14.7">+ setTranslations()</tspan><tspan x="3846" dy="14.7">+ getTranslations()</tspan><tspan x="3846" dy="14.7">+ getInstance()</tspan><tspan x="3846" dy="14.7"># __construct()</tspan><tspan x="3846" dy="14.7"># readFromCache()</tspan><tspan x="3846" dy="14.7"># readFromDB()</tspan></text></g>
<g id="ILIAS_Language_Language"><rect class="b" x="3335" y="2015" width="175" height="120"/><path class="s" d="M3335,2041H3510M3335,2066H3510"/><text class="t" x="3422" y="2033">ILIAS\Language\Language</text><text x="3341"><tspan x="3341" y="2082">+ txt()</tspan><tspan x="3341" dy="14.7">+ loadLanguageModule()</tspan><tspan x="3341" dy="14.7">+ getLangKey()</tspan><tspan x="3341" dy="14.7">+ toJS()</tspan></text></g>
<g id="ilLanguage"><rect class="b" x="3458" y="2293" width="179" height="326"/><path class="s" d="M3458,2319H3637M3458,2344H3637"/><text class="t" x="3547" y="2311">ilLanguage</text><text x="3464"><tspan x="3464" y="2360">+ __construct()</tspan><tspan x="3464" dy="14.7">+ getLangKey()</tspan><tspan x="3464" dy="14.7">+ getDefaultLanguage()</tspan><tspan x="3464" dy="14.7">+ getTextDirection()</tspan><tspan x="3464" dy="14.7">+ getContentLanguage()</tspan><tspan x="3464" dy="14.7">+ txtlng()</tspan><tspan x="3464" dy="14.7">+ txt()</tspan><tspan x="3464" dy="14.7">+ exists()</tspan><tspan x="3464" dy="14.7">+ loadLanguageModule()</tspan><tspan x="3464" dy="14.7">+ getInstalledLanguages()</tspan><tspan x="3464" dy="14.7">and 7 more...</tspan><tspan x="3464" dy="14.7">+ _getInstalledLanguages()</tspan><tspan x="3464" dy="14.7">+ _lookupEntry()</tspan><tspan x="3464" dy="14.7">+ lookupId()</tspan><tspan x="3464" dy="14.7">+ getFallbackInstance()</tspan><tspan x="3464" dy="14.7">+ getGlobalInstance()</tspan><tspan x="3464" dy="14.7"># logUsage()</tspan><tspan x="3464" dy="14.7"># isUsageLogEnabled()</tspan></text></g>
<g id="ilAuthProviderECS"><rect x="2984" y="2682" width="218" height="312" fill="#bfbfbf" stroke="#000" stroke-width="1.5"/><path class="s" d="M2984,2708H3202M2984,2733H3202"/><text class="t" x="3093" y="2700">ilAuthProviderECS</text><text x="2990"><tspan x="2990" y="2749">+ __construct()</tspan><tspan x="2990" dy="14.7">+ getAbreviation()</tspan><tspan x="2990" dy="14.7">+ getMID()</tspan><tspan x="2990" dy="14.7">+ setMID()</tspan><tspan x="2990" dy="14.7">+ setCurrentServer()</tspan><tspan x="2990" dy="14.7">+ getCurrentServer()</tspan><tspan x="2990" dy="14.7">+ getServerSettings()</tspan><tspan x="2990" dy="14.7">+ doAuthentication()</tspan><tspan x="2990" dy="14.7">+ handleLogin()</tspan><tspan x="2990" dy="14.7">+ initRemoteUserWithRemoteId()</tspan><tspan x="2990" dy="14.7">+ validateHash()</tspan><tspan x="2990" dy="14.7"># handleLoginByAuthMode()</tspan><tspan x="2990" dy="14.7"># resumeCurrentSession()</tspan><tspan x="2990" dy="14.7"># createUser()</tspan><tspan x="2990" dy="14.7"># updateUser()</tspan><tspan x="2990" dy="14.7"># resetMailOptions()</tspan><tspan x="2990" dy="14.7">- initECSServices()</tspan></text></g>
</svg>
